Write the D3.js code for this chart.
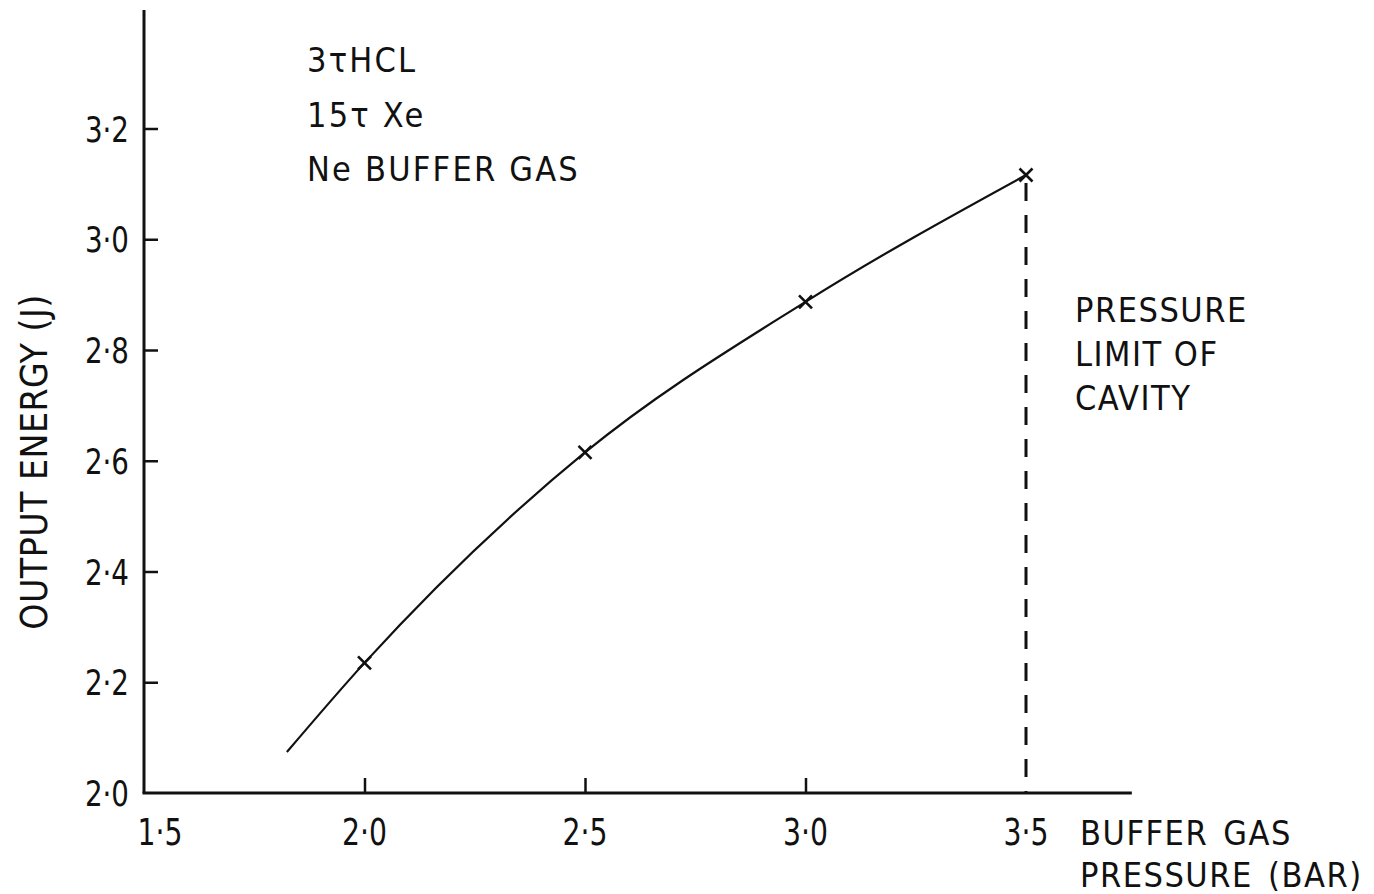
<!DOCTYPE html>
<html><head><meta charset="utf-8">
<script src="https://cdn.jsdelivr.net/npm/d3@7"></script>
<style>
html,body{margin:0;padding:0;background:#fff;}
text{font-family:"DejaVu Sans Condensed","DejaVu Sans",sans-serif;fill:#111;}
</style></head>
<body><svg id="c" width="1374" height="894"></svg>
<script>
// data
const pressure = [2.0, 2.5, 3.0, 3.5];
const energy = [2.235, 2.615, 2.887, 3.116];
const curveStart = [1.824, 2.074];
const xTicks = [1.5, 2.0, 2.5, 3.0, 3.5];
const yTicks = [2.0, 2.2, 2.4, 2.6, 2.8, 3.0, 3.2];
const pressureLimit = 3.5;
const notes = ["3τHCL", "15τ Xe", "Ne BUFFER GAS"];
const limitNote = ["PRESSURE", "LIMIT OF", "CAVITY"];
const xTitle = ["BUFFER GAS", "PRESSURE (BAR)"];
const yTitle = "OUTPUT ENERGY (J)";

const svg = d3.select("#c");
const x = d3.scaleLinear().domain([1.5, 3.5]).range([144, 1026]);
const y = d3.scaleLinear().domain([2.0, 3.2]).range([793, 128.5]);
const fmt = d => d.toFixed(1).replace(".", "·");

// axes lines
svg.append("line").attr("x1", x(1.5) - 1.5).attr("x2", x(3.74)).attr("y1", y(2.0)).attr("y2", y(2.0))
  .attr("stroke", "#111").attr("stroke-width", 3);
svg.append("line").attr("x1", x(1.5)).attr("x2", x(1.5)).attr("y1", y(2.0)).attr("y2", y(3.414))
  .attr("stroke", "#111").attr("stroke-width", 3);

// y ticks
const yAx = svg.append("g").attr("transform", `translate(${x(1.5)},0)`)
  .call(d3.axisRight(y).tickValues(yTicks.slice(1)).tickSize(14).tickFormat(""));
yAx.select(".domain").remove();
yAx.selectAll("line").attr("stroke", "#111").attr("stroke-width", 2.5);
svg.append("g").selectAll("text").data(yTicks).join("text")
  .attr("transform", d => `translate(${x(1.5) - 15},${y(d) + 13}) scale(0.88,1)`)
  .attr("text-anchor", "end").attr("font-size", 35).text(fmt);

// x ticks
const xAx = svg.append("g").attr("transform", `translate(0,${y(2.0)})`)
  .call(d3.axisTop(x).tickValues(xTicks.slice(1, 4)).tickSize(15).tickFormat(""));
xAx.select(".domain").remove();
xAx.selectAll("line").attr("stroke", "#111").attr("stroke-width", 2.5);
svg.append("g").selectAll("text").data(xTicks).join("text")
  .attr("transform", d => `translate(${x(d) + (d === 1.5 ? 16 : 0)},845) scale(0.85,1)`)
  .attr("text-anchor", "middle").attr("font-size", 37).text(fmt);

// curve
const pts = [curveStart].concat(pressure.map((p, i) => [p, energy[i]]));
svg.append("path").datum(pts)
  .attr("d", d3.line().x(d => x(d[0])).y(d => y(d[1])).curve(d3.curveMonotoneX))
  .attr("fill", "none").attr("stroke", "#111").attr("stroke-width", 2.2);

// dashed limit line
svg.append("line").attr("x1", x(pressureLimit)).attr("x2", x(pressureLimit))
  .attr("y1", y(energy[3]) + 8).attr("y2", y(2.0))
  .attr("stroke", "#111").attr("stroke-width", 3).attr("stroke-dasharray", "18,14");

// x markers
svg.append("g").selectAll("path").data(pressure).join("path")
  .attr("d", (p, i) => {
    const cx = x(p), cy = y(energy[i]), s = 6.5;
    return `M${cx - s},${cy - s}L${cx + s},${cy + s}M${cx - s},${cy + s}L${cx + s},${cy - s}`;
  })
  .attr("stroke", "#111").attr("stroke-width", 2.6).attr("fill", "none");

// annotations
svg.append("g").selectAll("text").data(notes).join("text")
  .attr("x", 307).attr("y", (d, i) => 72 + i * 54.5).attr("font-size", 34)
  .attr("letter-spacing", 2.2).text(d => d);
svg.append("g").selectAll("text").data(limitNote).join("text")
  .attr("x", 1075).attr("y", (d, i) => 322 + i * 44).attr("font-size", 34)
  .attr("letter-spacing", 1.5).text(d => d);
svg.append("g").selectAll("text").data(xTitle).join("text")
  .attr("x", 1080).attr("y", (d, i) => 845 + i * 42).attr("font-size", 34)
  .attr("letter-spacing", 1.5).attr("word-spacing", 4).text(d => d);
svg.append("text").attr("transform", "translate(47,462) rotate(-90)")
  .attr("text-anchor", "middle").attr("font-size", 37).attr("letter-spacing", 0.5).text(yTitle);
</script></body></html>
